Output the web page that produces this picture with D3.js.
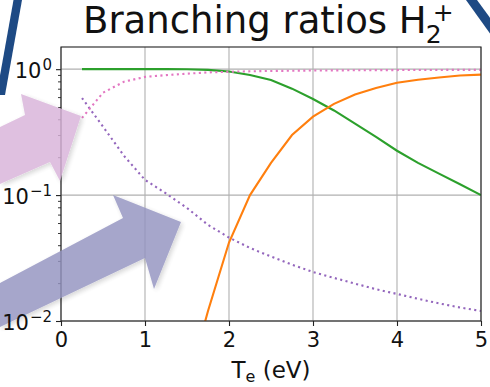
<!DOCTYPE html>
<html>
<head>
<meta charset="utf-8">
<script src="https://cdn.jsdelivr.net/npm/d3@7"></script>
<style>
  body { margin: 0; background: #fff; }
  svg { display: block; font-family: "DejaVu Sans", sans-serif; }
</style>
</head>
<body>
<div id="chart"></div>
<script>
// electron temperature (eV)
var te = [0.25, 0.5, 0.75, 1.0, 1.25, 1.5, 1.75, 2.0, 2.25, 2.5,
          2.75, 3.0, 3.25, 3.5, 3.75, 4.0, 4.25, 4.5, 4.75, 5.0];

// branching ratios
var brGreen  = [1.0, 1.0, 1.0, 1.0, 1.0, 0.998, 0.988, 0.958, 0.90, 0.82,
                0.70, 0.58, 0.47, 0.37, 0.29, 0.225, 0.18, 0.148, 0.122, 0.10];
var brOrange = [null, null, null, null, null, 0.003, 0.012, 0.042, 0.10, 0.18,
                0.30, 0.42, 0.53, 0.63, 0.71, 0.78, 0.825, 0.86, 0.89, 0.905];
var brPurple = [0.59, 0.35, 0.205, 0.132, 0.103, 0.079, 0.058, 0.046, 0.038, 0.0325,
                0.028, 0.0245, 0.022, 0.0198, 0.0179, 0.0164, 0.015, 0.0138, 0.0128, 0.012];
var brPink   = [0.41, 0.65, 0.795, 0.868, 0.897, 0.921, 0.942, 0.954, 0.962, 0.9675,
                0.972, 0.9755, 0.978, 0.980, 0.982, 0.9836, 0.985, 0.986, 0.987, 0.988];

var xTicks = [0, 1, 2, 3, 4, 5];
var yTicks = [0.01, 0.1, 1];
var yTickExp = ["\u22122", "\u22121", "0"];
var yMinor = [0.02, 0.03, 0.04, 0.05, 0.06, 0.07, 0.08, 0.09,
              0.2, 0.3, 0.4, 0.5, 0.6, 0.7, 0.8, 0.9];

var w = 490, h = 387;
var plotL = 61, plotR = 481, plotT = 47, plotB = 321;

var x = d3.scaleLinear().domain([0, 5]).range([plotL, plotR]);
var y = d3.scaleLog().domain([0.01, 1.5]).range([plotB, plotT]);

var svg = d3.select('#chart')
  .append('svg')
  .attr('width', w)
  .attr('height', h)
  .style('background', 'white');

var defs = svg.append('defs');
defs.append('clipPath').attr('id', 'plot-clip')
  .append('rect')
  .attr('x', plotL).attr('y', plotT)
  .attr('width', plotR - plotL).attr('height', plotB - plotT);

var soft = defs.append('filter').attr('id', 'soft')
  .attr('x', '-10%').attr('y', '-10%').attr('width', '130%').attr('height', '130%');
soft.append('feGaussianBlur').attr('in', 'SourceAlpha').attr('stdDeviation', 2.5).attr('result', 'b');
soft.append('feOffset').attr('in', 'b').attr('dx', 2).attr('dy', 2).attr('result', 'o');
soft.append('feComponentTransfer').attr('in', 'o').attr('result', 's')
  .append('feFuncA').attr('type', 'linear').attr('slope', 0.2);
soft.append('feGaussianBlur').attr('in', 'SourceGraphic').attr('stdDeviation', 0.7).attr('result', 'g');
var merge = soft.append('feMerge');
merge.append('feMergeNode').attr('in', 's');
merge.append('feMergeNode').attr('in', 'g');

// grid
var grid = svg.append('g').attr('stroke', '#b0b0b0').attr('stroke-width', 1.1);
grid.selectAll('.gx').data(xTicks).enter().append('line')
  .attr('x1', d => x(d)).attr('x2', d => x(d))
  .attr('y1', plotT).attr('y2', plotB);
grid.selectAll('.gy').data(yTicks).enter().append('line')
  .attr('x1', plotL).attr('x2', plotR)
  .attr('y1', d => y(d)).attr('y2', d => y(d));

// curves
var series = [
  { vals: brGreen,  color: '#2ca02c', dash: null },
  { vals: brOrange, color: '#ff7f0e', dash: null },
  { vals: brPurple, color: '#9467bd', dash: '2.1,3.4' },
  { vals: brPink,   color: '#e377c2', dash: '2.1,3.4' }
];

var line = d3.line()
  .defined(d => d[1] != null)
  .x(d => x(d[0]))
  .y(d => y(d[1]));

var plot = svg.append('g').attr('clip-path', 'url(#plot-clip)');
series.forEach(function(s) {
  plot.append('path')
    .datum(te.map((t, i) => [t, s.vals[i]]))
    .attr('fill', 'none')
    .attr('stroke', s.color)
    .attr('stroke-width', 2.1)
    .attr('stroke-dasharray', s.dash)
    .attr('d', line);
});

// frame
svg.append('rect')
  .attr('x', plotL).attr('y', plotT)
  .attr('width', plotR - plotL).attr('height', plotB - plotT)
  .attr('fill', 'none').attr('stroke', '#222').attr('stroke-width', 1.1);

// axes
var xAxis = svg.append('g')
  .attr('transform', 'translate(0,' + plotB + ')')
  .call(d3.axisBottom(x).tickValues(xTicks).tickSize(5).tickSizeOuter(0)
        .tickPadding(6).tickFormat(d3.format('d')));
xAxis.select('.domain').remove();
xAxis.selectAll('text').attr('font-size', 21).attr('font-family', 'DejaVu Sans').attr('fill', '#111');
xAxis.selectAll('line').attr('stroke', '#222').attr('stroke-width', 1.1);

var yAxis = svg.append('g')
  .attr('transform', 'translate(' + plotL + ',0)')
  .call(d3.axisLeft(y).tickValues(yTicks).tickSize(5).tickSizeOuter(0).tickFormat(''));
yAxis.select('.domain').remove();
yAxis.selectAll('line').attr('stroke', '#222').attr('stroke-width', 1.1);

var yMinorAxis = svg.append('g')
  .attr('transform', 'translate(' + plotL + ',0)')
  .call(d3.axisLeft(y).tickValues(yMinor).tickSize(3).tickSizeOuter(0).tickFormat(''));
yMinorAxis.select('.domain').remove();
yMinorAxis.selectAll('line').attr('stroke', '#222').attr('stroke-width', 0.9);

// decorative arrows laid over the chart
var arrows = [
  { pts: [[0,127],[25,115],[21,94],[81,116],[60,181],[50,162],[0,184]], color: '#d9b3da' },
  { pts: [[0,283],[123,218],[113,195],[181,222],[154,289],[145,258],[0,327]], color: '#9393c0' }
];
svg.append('g').selectAll('polygon').data(arrows).enter().append('polygon')
  .attr('points', d => d.pts.map(p => p.join(',')).join(' '))
  .attr('fill', d => d.color)
  .attr('opacity', 0.82)
  .attr('filter', 'url(#soft)');

// y tick labels 10^k
var yLab = svg.append('g').attr('fill', '#111');
yTicks.forEach(function(v, i) {
  var t = yLab.append('text')
    .attr('x', 52)
    .attr('y', y(v) + 9)
    .attr('text-anchor', 'end')
    .attr('font-size', 21);
  t.append('tspan').text('10');
  t.append('tspan').attr('font-size', 15).attr('dy', -8).attr('dx', 1).text(yTickExp[i]);
});

// x label
var xl = svg.append('text')
  .attr('x', (plotL + plotR) / 2)
  .attr('y', 378)
  .attr('text-anchor', 'middle')
  .attr('font-size', 23)
  .attr('fill', '#111');
xl.append('tspan').text('T');
xl.append('tspan').attr('font-size', 16).attr('dy', 4).text('e');
xl.append('tspan').attr('dy', -4).text('\u00a0(eV)');

// title
var title = svg.append('text')
  .attr('x', 83)
  .attr('y', 33)
  .attr('font-size', 37)
  .attr('fill', '#111')
  .text('Branching ratios H');
var tl = title.node().getComputedTextLength();
svg.append('text')
  .attr('x', 83 + tl - 1)
  .attr('y', 43)
  .attr('font-size', 25)
  .attr('fill', '#111')
  .text('2');
svg.append('text')
  .attr('x', 83 + tl + 6)
  .attr('y', 21)
  .attr('font-size', 25)
  .attr('fill', '#111')
  .text('+');

// dark blue slanted bars at the corners
var bars = [
  [[13.5,0],[22,0],[5,95],[-3.5,95]],
  [[466,0],[477,0],[491,19],[491,35]]
];
svg.append('g').selectAll('polygon').data(bars).enter().append('polygon')
  .attr('points', d => d.map(p => p.join(',')).join(' '))
  .attr('fill', '#1e4a84');
</script>
</body>
</html>
